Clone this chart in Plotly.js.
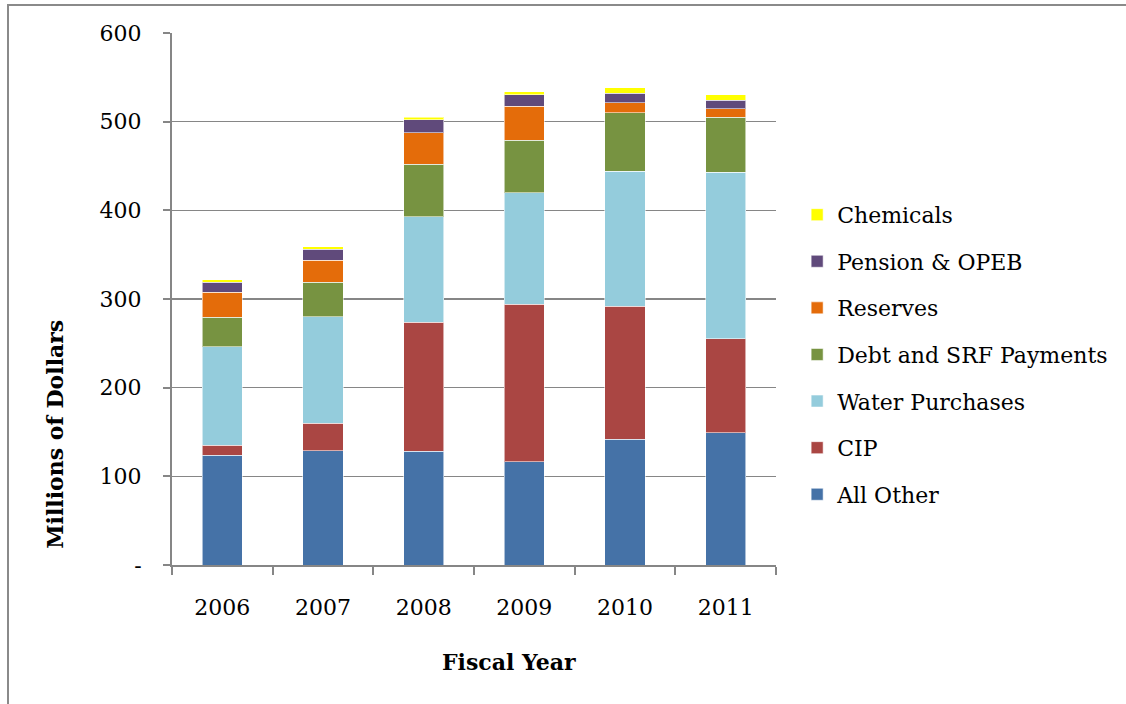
<!DOCTYPE html>
<html>
<head>
<meta charset="utf-8">
<script src="https://cdn.plot.ly/plotly-3.0.1.min.js"></script>
<style>
html,body{margin:0;padding:0;background:#fff;}
#chart{width:1126px;height:704px;position:absolute;left:0;top:0;}
#frame{position:absolute;left:7px;top:4px;width:1200px;height:800px;border-left:2px solid #8a8a8a;border-top:2px solid #8a8a8a;pointer-events:none;}
</style>
</head>
<body>
<div id="chart"></div>
<div id="frame"></div>
<script>
const years = ["2006","2007","2008","2009","2010","2011"];
const allOther   = [123.6, 128.9, 128.2, 116.5, 142.1, 149.2];
const cip        = [11.7, 30.8, 145.4, 177.8, 150.0, 105.7];
const water      = [110.6, 120.3, 119.2, 125.6, 151.8, 188.3];
const debt       = [33.8, 39.1, 59.4, 59.4, 65.9, 62.0];
const reserves   = [27.7, 24.4, 35.3, 37.9, 11.6, 9.1];
const pension    = [11.3, 12.4, 14.4, 12.9, 10.9, 9.7];
const chemicals  = [3.1, 3.1, 3.3, 3.7, 6.0, 6.4];

const seriesNames = ["All Other","CIP","Water Purchases","Debt and SRF Payments","Reserves","Pension & OPEB","Chemicals"];
const seriesVals = [allOther, cip, water, debt, reserves, pension, chemicals];
const seriesColors = ["#4572A7","#AA4643","#94CCDC","#779341","#E46C0A","#604A7B","#FFFF00"];

const yTickVals = [0,100,200,300,400,500,600];
const yTickText = ["-","100","200","300","400","500","600"];
const xTitle = "Fiscal Year";
const yTitle = "Millions of Dollars";

const traces = seriesNames.map((n,i)=>({
  type:"bar",
  name:n,
  x:years,
  y:seriesVals[i],
  legendgroup:"g"+i,
  legendrank:100 - i,
  marker:{color:seriesColors[i], line:{color:"rgba(255,255,255,0.55)", width:1}},
  hoverinfo:"x+y+name"
}));

const font = "DejaVu Serif, Liberation Serif, serif";
const layout = {
  width:1126, height:704,
  margin:{l:172, r:350, t:33, b:139},
  paper_bgcolor:"rgba(0,0,0,0)",
  plot_bgcolor:"#fff",
  barmode:"stack",
  bargap:0.6,
  font:{family:font, size:22, color:"#000"},
  xaxis:{
    type:"category",
    showline:true, linecolor:"#868686", linewidth:2,
    ticks:"outside", tickson:"boundaries", ticklen:8, tickcolor:"#868686", tickwidth:2,
    ticklabelstandoff:22,
    tickfont:{family:font, size:22},
    showgrid:false
  },
  yaxis:{
    range:[0,600],
    tickvals:yTickVals, ticktext:yTickText,
    showline:true, linecolor:"#868686", linewidth:2,
    ticks:"outside", ticklen:7, tickcolor:"#868686", tickwidth:2,
    ticklabelstandoff:17,
    showgrid:true, gridcolor:"#868686", gridwidth:1.6,
    zeroline:false,
    tickfont:{family:font, size:22}
  },
  annotations:[
    {text:"<b>"+xTitle+"</b>", xref:"paper", yref:"paper", x:(509-172)/604, y:-(662-565.3)/532.3,
     xanchor:"center", yanchor:"middle", showarrow:false, font:{family:font, size:22}},
    {text:"<b>"+yTitle+"</b>", xref:"paper", yref:"paper", x:-(172-55)/604, y:(565.3-435)/532.3,
     xanchor:"center", yanchor:"middle", textangle:-90, showarrow:false, font:{family:font, size:22}}
  ],
  showlegend:true,
  legend:{
    traceorder:"grouped",
    x:1.035, xanchor:"left",
    y:0.395, yanchor:"middle",
    font:{family:font, size:22},
    tracegroupgap:15,
    bgcolor:"rgba(0,0,0,0)"
  }
};

Plotly.newPlot("chart", traces, layout, {displayModeBar:false, staticPlot:true});
</script>
</body>
</html>
